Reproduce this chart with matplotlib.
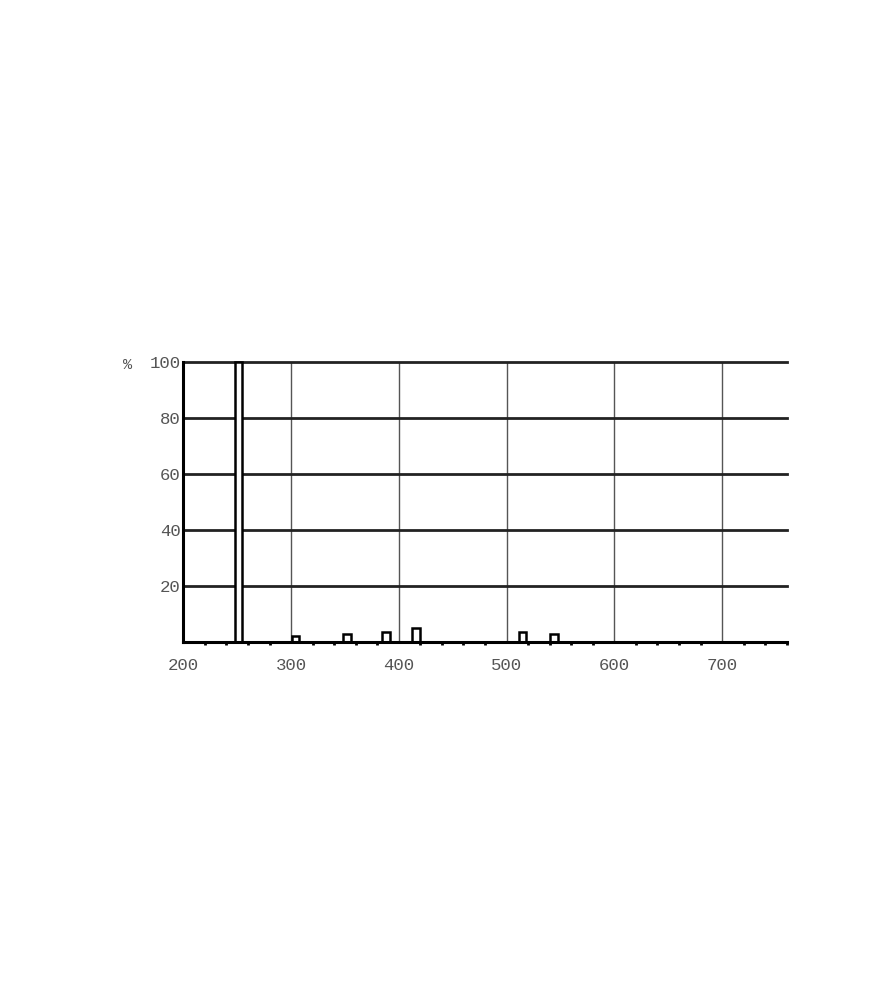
import matplotlib
matplotlib.use('Agg')
import matplotlib.pyplot as plt
import numpy as np

# mass spectrum-like bar data (m/z, relative intensity %)
MZ        = [251, 304, 352, 388, 416, 515, 544]
INTENSITY = [100, 2.4, 3.0, 3.6, 5.0, 3.6, 3.0]
X_TICKS   = [200, 300, 400, 500, 600, 700]
Y_TICKS   = [20, 40, 60, 80, 100]

FONT = 'Liberation Mono'
TXT = '#555555'

fig = plt.figure(figsize=(8.75, 10), dpi=100)
ax = fig.add_axes([0.2095, 0.3577, 0.6896, 0.28])

ax.bar(MZ, INTENSITY, width=6.8, color='white', edgecolor='black',
       linewidth=1.8, zorder=3, clip_on=False)

ax.set_xlim(200, 760)
ax.set_ylim(0, 100)

ax.set_xticks(X_TICKS)
ax.set_xticks(np.arange(220, 761, 20), minor=True)
ax.set_yticks(Y_TICKS)
ax.set_xticklabels([str(v) for v in X_TICKS], fontfamily=FONT,
                   fontsize=12.5, color=TXT)
ax.set_yticklabels([str(v) for v in Y_TICKS], fontfamily=FONT,
                   fontsize=12.5, color=TXT)
ax.tick_params(axis='x', which='major', length=0, pad=11)
ax.tick_params(axis='x', which='minor', length=2.5, width=2, color='black')
ax.tick_params(axis='y', length=0, pad=2)

for v in X_TICKS[1:]:
    ax.axvline(v, color='#555555', linewidth=1.0, zorder=1)
for v in Y_TICKS:
    ax.axhline(v, color='#222222', linewidth=2.0, zorder=1, clip_on=False)

for s in ['top', 'right']:
    ax.spines[s].set_visible(False)
ax.spines['left'].set_linewidth(2.2)
ax.spines['bottom'].set_linewidth(2.2)
ax.spines['left'].set_zorder(4)
ax.spines['bottom'].set_zorder(4)

fig.text(128 / 875, 1 - 365 / 1000, '%', fontfamily=FONT, fontsize=11,
         color=TXT, ha='center', va='center')

fig.savefig('out.png', dpi=100, facecolor='white')
